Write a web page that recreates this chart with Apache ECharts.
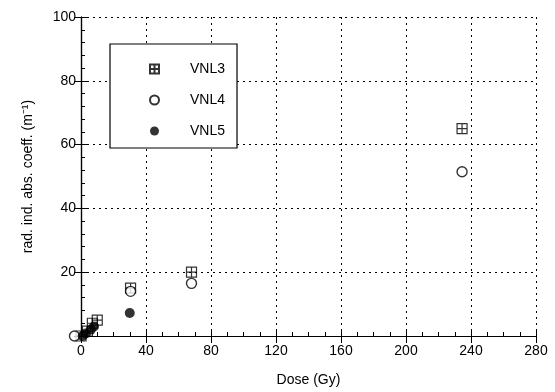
<!DOCTYPE html>
<html><head><meta charset="utf-8">
<script src="https://cdn.jsdelivr.net/npm/echarts@6/dist/echarts.min.js"></script>
<style>html,body{margin:0;padding:0;background:#fff}#c{width:555px;height:392px}</style>
</head><body><div id="c"></div>
<script>
const seriesNames = ['VNL3', 'VNL4', 'VNL5'];
const vnl3 = [[0, 0], [4, 1.5], [7, 4], [10, 5], [30.5, 15], [68, 20], [234.5, 65]];
const vnl4 = [[-4, 0], [30.5, 14], [68, 16.5], [234.5, 51.5]];
const vnl5 = [[1, 0], [3, 0.8], [6, 2], [8, 3], [30, 7.2]];
const xTicks = [0, 40, 80, 120, 160, 200, 240, 280];
const yTicks = [0, 20, 40, 60, 80, 100];

const FONT = 'Liberation Sans';
const FS = 14;
const sqPath = 'path://M1,1H19V19H1Z M10,1V19 M1,10H19';
const markers = [
  {symbol: sqPath, itemStyle: {color: 'transparent', borderColor: '#000', borderWidth: 1.2}, size: 10},
  {symbol: 'circle', itemStyle: {color: '#fff', borderColor: '#000', borderWidth: 1.4}, size: 10},
  {symbol: 'circle', itemStyle: {color: '#000', borderColor: '#000', borderWidth: 0}, size: 10}
];
const datasets = [vnl3, vnl4, vnl5];

const chart = echarts.init(document.getElementById('c'));
const axisCommon = {
  axisLine: {show: true, lineStyle: {color: '#000', width: 1.2}},
  axisTick: {show: true, inside: true, length: 7, lineStyle: {color: '#000'}},
  axisLabel: {color: '#000', fontFamily: FONT, fontSize: FS}
};
chart.setOption({
  animation: false,
  backgroundColor: '#fff',
  grid: {left: 81, right: 19, top: 17, bottom: 56, containLabel: false},
  legend: {
    orient: 'vertical', left: 110, top: 44,
    data: seriesNames,
    itemWidth: 9, itemHeight: 9, itemGap: 17,
    padding: [18, 12, 10, 39],
    backgroundColor: '#fff',
    borderColor: '#000', borderWidth: 1.2,
    textStyle: {color: '#000', fontFamily: FONT, fontSize: FS, padding: [0, 0, 0, 26]}
  },
  xAxis: [{
    type: 'value', min: 0, max: 280, interval: 40,
    name: 'Dose (Gy)', nameLocation: 'middle', nameGap: 37,
    nameTextStyle: {color: '#000', fontFamily: FONT, fontSize: FS},
    ...axisCommon,
    axisLabel: {...axisCommon.axisLabel, margin: 8,
      formatter: v => xTicks.includes(v) ? String(v) : ''},
    minorTick: {show: true, splitNumber: 4, length: 4, lineStyle: {color: '#000'}},
    splitLine: {show: true, lineStyle: {color: '#000', type: [2, 4], width: 1}}
  }, {
    type: 'value', min: 0, max: 280, interval: 40, position: 'top',
    ...axisCommon, axisLabel: {show: false}, splitLine: {show: false}
  }],
  yAxis: [{
    type: 'value', min: 0, max: 100, interval: 20,
    name: 'rad. ind. abs. coeff. (m⁻¹)', nameLocation: 'middle', nameGap: 46,
    nameTextStyle: {color: '#000', fontFamily: FONT, fontSize: FS},
    ...axisCommon,
    axisLabel: {...axisCommon.axisLabel, margin: 5,
      formatter: v => (yTicks.includes(v) && v !== 0) ? String(v) : ''},
    minorTick: {show: true, splitNumber: 5, length: 4, lineStyle: {color: '#000'}},
    splitLine: {show: true, lineStyle: {color: '#000', type: [2, 4], width: 1}}
  }, {
    type: 'value', min: 0, max: 100, interval: 20, position: 'right',
    ...axisCommon, axisLabel: {show: false}, splitLine: {show: false}
  }],
  series: datasets.map((d, i) => ({
    name: seriesNames[i], type: 'scatter', data: d, clip: false,
    symbol: markers[i].symbol, symbolSize: markers[i].size,
    itemStyle: markers[i].itemStyle, z: 3 + i
  }))
});
</script></body></html>
